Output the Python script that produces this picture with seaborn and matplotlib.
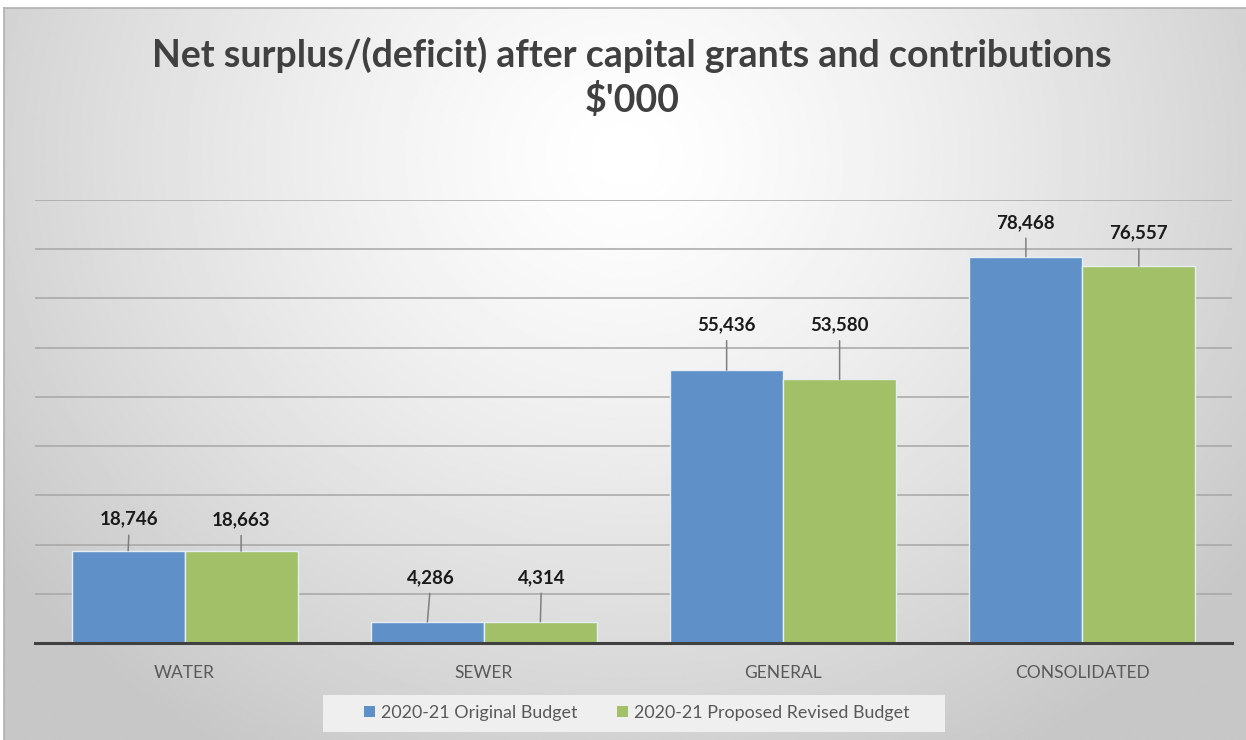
import numpy as np
import pandas as pd
import seaborn as sns
import matplotlib.pyplot as plt
from matplotlib.patches import Patch, Rectangle

# Data
categories = ['WATER', 'SEWER', 'GENERAL', 'CONSOLIDATED']
series = ['2020-21 Original Budget', '2020-21 Proposed Revised Budget']
original = [18746, 4286, 55436, 78468]
revised = [18663, 4314, 53580, 76557]

# label offsets in pixels (bottom of label above bar top, sideways)
label_dy = [[23, 36, 37, 26], [23, 36, 46, 25]]
label_dx = [[1, 3, 0, 0], [0, 1, 0, 0]]

colors = ['#6090c8', '#a2c068']

df = pd.DataFrame({
    'category': categories * 2,
    'value': original + revised,
    'series': [series[0]] * 4 + [series[1]] * 4,
})

sns.set_theme(style='white')
plt.rcParams['font.family'] = ['Lato', 'DejaVu Sans']

W, H = 1246, 740
fig = plt.figure(figsize=(W / 100, H / 100), dpi=100)
fig.patch.set_facecolor('white')
px = 72 / 100  # points per pixel

# radial gradient background of the chart area
bg = fig.add_axes([4 / W, 0, 1 - 4 / W, (H - 8) / H], zorder=-2)
yy, xx = np.mgrid[0:1:400j, 0:1:700j]
d = np.sqrt(((xx - 0.5) / 0.62) ** 2 + ((yy - 0.2) / 0.95) ** 2)
img = 1.0 - 0.22 * np.clip(d, 0, 1) ** 1.3
bg.imshow(img, cmap='gray', vmin=0, vmax=1, aspect='auto', extent=[0, 1, 1, 0])
bg.set_xticks([])
bg.set_yticks([])
for s in ['right', 'bottom']:
    bg.spines[s].set_visible(False)
for s in ['top', 'left']:
    bg.spines[s].set_color('#b0b0b0')
    bg.spines[s].set_linewidth(1.2)

ax = fig.add_axes([35 / W, 1 - 643 / H, (1232 - 35) / W, (643 - 200) / H])
ax.patch.set_alpha(0)

sns.barplot(data=df, x='category', y='value', hue='series', palette=colors,
            width=0.755, gap=0, edgecolor='#e6eef5', linewidth=1.0,
            saturation=1, ax=ax, zorder=3)

ax.set_ylim(0, 90000)
ax.set_xlim(-0.5, 3.5)
ax.set_yticks(np.arange(0, 90001, 10000))
ax.yaxis.grid(True, color='#a6a6a6', linewidth=1.1, zorder=0)
ax.set_axisbelow(True)
ax.tick_params(axis='y', left=False, labelleft=False)
ax.tick_params(axis='x', bottom=False, labelsize=12.5, labelcolor='#595959', pad=10)
ax.set_xlabel('')
ax.set_ylabel('')
for s in ['top', 'right', 'left']:
    ax.spines[s].set_visible(False)
ax.spines['bottom'].set_color('#404040')
ax.spines['bottom'].set_linewidth(2.2)
ax.spines['bottom'].set_zorder(5)

# data labels with leader lines
for i, cont in enumerate(ax.containers):
    for j, bar in enumerate(cont):
        v = bar.get_height()
        x = bar.get_x() + bar.get_width() / 2
        ax.annotate(f'{int(v):,}', xy=(x, v),
                    xytext=(label_dx[i][j] * px, label_dy[i][j] * px),
                    textcoords='offset points', ha='center', va='bottom',
                    fontsize=13.5, fontweight='bold', color='#1a1a1a',
                    arrowprops=dict(arrowstyle='-', color='#7f7f7f', lw=1.1,
                                    shrinkA=3, shrinkB=0, relpos=(0.5, 0)))

ax.get_legend().remove()

# legend box
fig.patches.append(Rectangle((323 / W, 1 - 732 / H), (945 - 323) / W, 37 / H,
                             transform=fig.transFigure, facecolor='#efefef',
                             edgecolor='none', zorder=1))
handles = [Patch(facecolor=c, edgecolor='none') for c in colors]
leg = fig.legend(handles, series, loc='center', bbox_to_anchor=(637 / W, 1 - 713 / H),
                 ncol=2, frameon=False, fontsize=12.9, handlelength=0.6, handleheight=0.6,
                 handletextpad=0.35, columnspacing=2.2)
for t in leg.get_texts():
    t.set_color('#595959')

fig.text(632 / W, 1 - 55 / H, 'Net surplus/(deficit) after capital grants and contributions',
         ha='center', va='center', fontsize=27, fontweight='bold', color='#404040')
fig.text(632 / W, 1 - 100 / H, "$'000", ha='center', va='center',
         fontsize=27, fontweight='bold', color='#404040')

fig.savefig('out.png', dpi=100)
